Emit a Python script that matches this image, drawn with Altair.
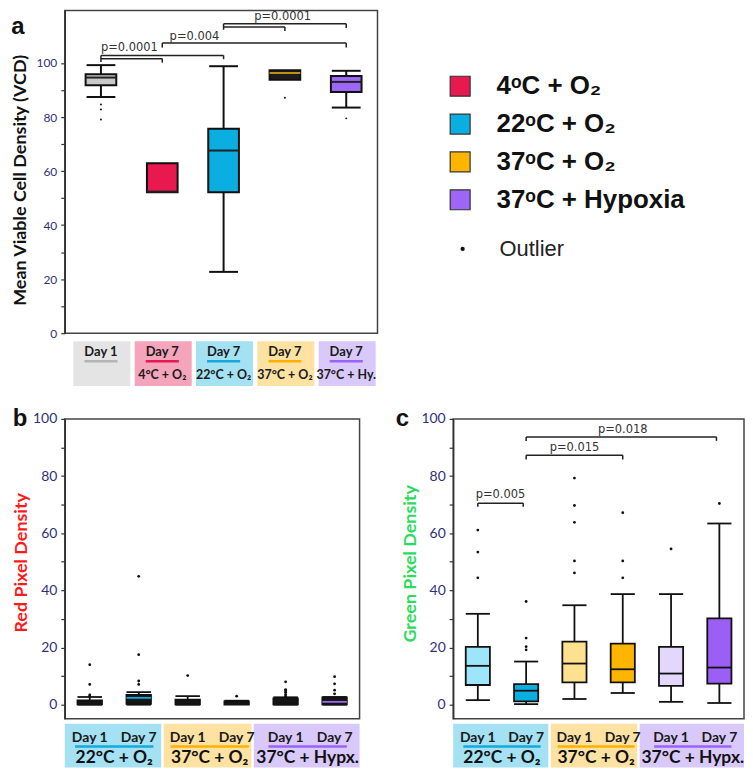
import altair as alt
import pandas as pd

# ================= DATA =================
# Panel a : mean viable cell density
a_top_labels = ["Day 1", "Day 7", "Day 7", "Day 7", "Day 7"]
a_bottom_labels = ["", "4°C + O₂", "22°C + O₂", "37°C + O₂", "37°C + Hy."]
a_low = [87.4, 52.2, 22.7, 93.8, 83.5]
a_q1 = [91.8, 52.2, 52.2, 93.8, 89.3]
a_med = [94.6, 52.4, 67.6, 96.3, 93.0]
a_q3 = [95.8, 62.9, 75.7, 97.3, 95.2]
a_high = [99.2, 62.9, 98.8, 97.3, 97.1]
a_outliers = [[79.1, 82.8, 84.6], [], [], [87.1], [79.5]]
a_pvalues = ["p=0.0001", "p=0.004", "p=0.0001"]

# Panels b / c : pixel densities
bc_days = ["Day 1", "Day 7", "Day 1", "Day 7", "Day 1", "Day 7"]
bc_conditions = ["22°C + O₂", "37°C + O₂", "37°C + Hypx."]

b_low = [0.0, 0.0, 0.0, 0.0, 0.0, 0.0]
b_q1 = [0.1, 0.3, 0.1, 0.0, 0.1, 0.1]
b_med = [0.7, 2.4, 0.8, 0.5, 0.8, 1.0]
b_q3 = [1.5, 3.4, 1.8, 1.2, 2.2, 2.6]
b_high = [2.7, 4.4, 3.0, 1.4, 2.6, 2.7]
b_outliers = [[3.0, 3.4, 7.1, 14.0], [7.1, 8.3, 17.5, 44.9], [10.2], [3.0],
              [3.0, 3.6, 4.4, 5.0, 5.3, 8.0], [3.8, 5.1, 7.3, 9.8]]

c_low = [1.6, 0.2, 2.0, 4.1, 1.0, 0.6]
c_q1 = [6.9, 1.2, 7.8, 7.8, 6.6, 7.4]
c_med = [13.6, 4.9, 14.4, 12.4, 10.9, 13.0]
c_q3 = [20.2, 7.2, 22.1, 21.4, 20.2, 30.2]
c_high = [31.8, 15.1, 34.8, 38.7, 38.7, 63.4]
c_outliers = [[44.4, 53.4, 61.1], [19.2, 20.3, 23.3, 36.1], [46.1, 50.3, 63.8, 69.7, 79.3],
              [44.4, 50.3, 67.2], [54.5], [70.4]]
c_pvalues = ["p=0.005", "p=0.015", "p=0.018"]

legend_labels = ["4ᵒC + O₂", "22ᵒC + O₂", "37ᵒC + O₂", "37ᵒC + Hypoxia"]

# ================= STYLE =================
INK = "#111111"
TICK_LABEL = "#30307a"
A_FILL = ["#c8c8c8", "#e8194f", "#0aaee0", "#1c1c1c", "#9c66f7"]
A_MED = ["#222222", "#222222", "#222222", "#c39212", "#222222"]
A_BG = ["#e4e4e4", "#f5a5bb", "#a4e1f3", "#fde2a2", "#d9c9fb"]
A_LINE = ["#b4b4b4", "#e8194f", "#15a9dc", "#ffb000", "#9b62f6"]
B_FILL = ["#151515"] * 6
B_MED = ["#151515", "#10aee0", "#151515", "#151515", "#151515", "#9c66f7"]
C_FILL = ["#9de6fa", "#0aaee0", "#fde18f", "#ffb400", "#e3d7fb", "#9c5ff5"]
C_MED = ["#111111"] * 6
BC_BG = ["#a4e1f3", "#fde2a2", "#d9c9fb"]
BC_LINE = ["#15a9dc", "#ffb000", "#9b62f6"]
LEG_COLORS = ["#e8194f", "#0aaee0", "#ffb400", "#9c66f7"]


def boxes_df(low, q1, med, q3, high, fills, meds, hb, hc):
    d = pd.DataFrame({"pos": list(range(1, len(low) + 1)), "low": low, "q1": q1,
                      "med": med, "q3": q3, "high": high, "fill": fills, "medc": meds})
    d["xl"] = d["pos"] - hb
    d["xr"] = d["pos"] + hb
    d["cl"] = d["pos"] - hc
    d["cr"] = d["pos"] + hc
    return d


def outliers_df(outs):
    rows = [(i + 1, v) for i, vs in enumerate(outs) for v in vs]
    return pd.DataFrame(rows, columns=["pos", "v"])


def bracket_df(brackets):
    segs = []
    for x1, x2, lvl, dl, dr in brackets:
        segs.append((x1, x2, lvl, lvl))
        if dl:
            segs.append((x1, x1, lvl, lvl - dl))
        if dr:
            segs.append((x2, x2, lvl, lvl - dr))
    return pd.DataFrame(segs, columns=["x", "x2", "y", "y2"])


def make_axis(title, color, title_x, title_y, label_size):
    return alt.Axis(title=title, values=list(range(0, 101, 10)),
                    labelExpr="datum.value % 20 === 0 ? datum.label : ''",
                    grid=False, domainColor="#333333", domainWidth=1.5,
                    tickColor="#333333", tickSize=4, tickWidth=1.2,
                    labelPadding=4, labelFont="Lato", labelFontSize=label_size,
                    labelColor=TICK_LABEL, labelFlush=False, labelOverlap=False,
                    titleFont="Lato", titleFontSize=18, titleFontWeight="bold",
                    titleColor=color, titleAngle=270, titleBaseline="middle",
                    titleX=title_x, titleY=title_y)


def box_layers(bdf, odf, xs, ys, yax, sw, dot):
    def X(f):
        return alt.X(f, type="quantitative", scale=xs, axis=None)

    def Y(f):
        return alt.Y(f, type="quantitative", scale=ys, axis=yax)

    base = alt.Chart(bdf)
    rule = dict(color=INK, strokeWidth=sw)
    wl = base.transform_filter("datum.low < datum.q1").mark_rule(**rule).encode(
        x=X("pos"), y=Y("low"), y2="q1")
    wh = base.transform_filter("datum.high > datum.q3").mark_rule(**rule).encode(
        x=X("pos"), y=Y("q3"), y2="high")
    cl = base.transform_filter("datum.low < datum.q1").mark_rule(**rule).encode(
        x=X("cl"), x2="cr", y=Y("low"))
    ch = base.transform_filter("datum.high > datum.q3").mark_rule(**rule).encode(
        x=X("cl"), x2="cr", y=Y("high"))
    box = base.mark_rect(stroke=INK, strokeWidth=sw).encode(
        x=X("xl"), x2="xr", y=Y("q1"), y2="q3", fill=alt.Fill("fill:N", scale=None))
    med = base.mark_rule(strokeWidth=sw).encode(
        x=X("xl"), x2="xr", y=Y("med"), color=alt.Color("medc:N", scale=None))
    out = alt.Chart(odf).mark_circle(size=dot, color=INK, opacity=1).encode(
        x=X("pos"), y=Y("v"))
    return [wl, wh, cl, ch, box, med, out], X, Y


def letter(txt, xv, yv):
    return alt.Chart(pd.DataFrame({"t": [txt]})).mark_text(
        font="Liberation Sans", fontSize=24, fontWeight="bold", color=INK,
        align="center", baseline="alphabetic").encode(
        x=alt.value(xv), y=alt.value(yv), text="t:N")


# ================= PANEL A =================
xs_a = alt.Scale(domain=[0.41, 5.51], nice=False, zero=False)
ys_a = alt.Scale(domain=[0, 119.4], nice=False, zero=False)
ax_a = make_axis("Mean Viable Cell Density (VCD)", INK, -44.5, 170, 12)

a_box = boxes_df(a_low, a_q1, a_med, a_q3, a_high, A_FILL, A_MED, 0.25, 0.235)
a_layers, XA, YA = box_layers(a_box, outliers_df(a_outliers), xs_a, ys_a, ax_a, 2, 4)

a_lab = pd.DataFrame({"pos": list(range(1, 6)), "top": a_top_labels,
                      "bottom": a_bottom_labels, "bg": A_BG, "line": A_LINE})
a_lab["x1"] = a_lab["pos"] - 0.45
a_lab["x2"] = a_lab["pos"] + 0.48
a_lab["u1"] = a_lab["pos"] - 0.27
a_lab["u2"] = a_lab["pos"] + 0.27
a_lab["y1"] = -2.95
a_lab["y2"] = -19.53
a_lab["ty"] = -6.9
a_lab["uy"] = -10.4
a_lab["by"] = -15.6
la = alt.Chart(a_lab)
a_bg = la.mark_rect().encode(x=XA("x1"), x2="x2", y=YA("y1"), y2="y2",
                             fill=alt.Fill("bg:N", scale=None))
a_t1 = la.mark_text(font="Lato", fontSize=13, fontWeight="bold", color="#1a1a1a",
                    baseline="middle").encode(x=XA("pos"), y=YA("ty"), text="top:N")
a_ul = la.mark_rule(strokeWidth=2.5).encode(x=XA("u1"), x2="u2", y=YA("uy"),
                                            color=alt.Color("line:N", scale=None))
a_t2 = la.mark_text(font="Lato", fontSize=12.5, fontWeight="bold", color="#1a1a1a",
                    baseline="middle").encode(x=XA("pos"), y=YA("by"), text="bottom:N")

a_br = bracket_df([(1, 3, 102.8, 2.4, 1.4), (1, 2, 101.6, 0, 1.5),
                   (2, 5, 107.4, 1.7, 1.7),
                   (3, 5, 114.5, 2.2, 1.6), (3, 4, 113.3, 0, 1.5)])
a_brl = alt.Chart(a_br).mark_rule(color="#222222", strokeWidth=1.5).encode(
    x=XA("x"), x2="x2", y=YA("y"), y2="y2")
a_pt = pd.DataFrame({"t": a_pvalues, "x": [1.0, 2.12, 3.5], "y": [105.5, 109.7, 117.1]})
a_ptl = alt.Chart(a_pt).mark_text(font="DejaVu Sans", fontSize=11.5, color="#333333",
                                  align="left", baseline="middle").encode(
    x=XA("x"), y=YA("y"), text="t:N")

panel_a = alt.layer(a_bg, a_t1, a_ul, a_t2, *a_layers, a_brl, a_ptl,
                    letter("a", -47, 24)).properties(width=314, height=324)

# ================= LEGEND =================
ly = alt.Scale(domain=[-2, 5.895], nice=False, zero=False, reverse=True)
leg = pd.DataFrame({"label": legend_labels, "color": LEG_COLORS, "row": [0, 1, 2, 3]})
lg_sq = alt.Chart(leg).mark_square(size=400, stroke="#333333", strokeWidth=1.2,
                                   opacity=1).encode(
    x=alt.value(61), y=alt.Y("row:Q", scale=ly, axis=None),
    fill=alt.Fill("color:N", scale=None))
lg_tx = alt.Chart(leg).mark_text(font="Liberation Sans", fontSize=26, fontWeight="bold",
                                 color=INK, align="left", baseline="middle").encode(
    x=alt.value(97.5), y=alt.Y("row:Q", scale=ly, axis=None), text="label:N")
outl = pd.DataFrame({"label": ["Outlier"], "row": [4.3]})
lg_od = alt.Chart(outl).mark_circle(size=18, color=INK, opacity=1).encode(
    x=alt.value(63.5), y=alt.Y("row:Q", scale=ly, axis=None))
lg_ot = alt.Chart(outl).mark_text(font="Liberation Sans", fontSize=22, color="#222222",
                                  align="left", baseline="middle").encode(
    x=alt.value(100.5), y=alt.Y("row:Q", scale=ly, axis=None), text="label:N")
legend = alt.layer(lg_sq, lg_tx, lg_od, lg_ot).properties(
    width=330, height=300, view=alt.ViewBackground(stroke="transparent"))

# ================= PANELS B / C =================
ys_bc = alt.Scale(domain=[-4.88, 100], nice=False, zero=False)
xs_bc = alt.Scale(domain=[0.49, 6.51], nice=False, zero=False)


def bc_panel(low, q1, med, q3, high, fills, meds, outs, title, tcolor, title_x,
             title_y, width, let, let_x, brackets=None, ptexts=None):
    ax = make_axis(title, tcolor, title_x, title_y, 14)
    bdf = boxes_df(low, q1, med, q3, high, fills, meds, 0.25, 0.25)
    layers, X, Y = box_layers(bdf, outliers_df(outs), xs_bc, ys_bc, ax, 1.8, 8)
    grp = pd.DataFrame({"x1": [0.49, 2.51, 4.35], "x2": [2.46, 4.3, 6.51],
                        "mid": [1.5, 3.45, 5.45], "cond": bc_conditions,
                        "bg": BC_BG, "line": BC_LINE})
    grp["u1"] = grp["mid"] - 0.8
    grp["u2"] = grp["mid"] + 0.8
    grp["y1"] = -6.62
    grp["y2"] = -21.95
    grp["uy"] = -14.6
    grp["cy"] = -18.8
    days = pd.DataFrame({"pos": list(range(1, 7)), "day": bc_days})
    days["ty"] = -11.5
    g = alt.Chart(grp)
    bg = g.mark_rect().encode(x=X("x1"), x2="x2", y=Y("y1"), y2="y2",
                              fill=alt.Fill("bg:N", scale=None))
    ul = g.mark_rule(strokeWidth=2.5).encode(x=X("u1"), x2="u2", y=Y("uy"),
                                             color=alt.Color("line:N", scale=None))
    ct = g.mark_text(font="Lato", fontSize=17.5, fontWeight="bold", color="#111111",
                     baseline="middle").encode(x=X("mid"), y=Y("cy"), text="cond:N")
    dt = alt.Chart(days).mark_text(font="Lato", fontSize=14, fontWeight="bold",
                                   color="#1a1a1a", baseline="middle").encode(
        x=X("pos"), y=Y("ty"), text="day:N")
    extra = []
    if brackets is not None:
        extra.append(alt.Chart(bracket_df(brackets)).mark_rule(
            color="#222222", strokeWidth=1.5).encode(x=X("x"), x2="x2", y=Y("y"), y2="y2"))
        extra.append(alt.Chart(ptexts).mark_text(
            font="DejaVu Sans", fontSize=11.5, color="#333333", baseline="middle").encode(
            x=X("x"), y=Y("y"), text="t:N"))
    return alt.layer(bg, ul, ct, dt, *layers, *extra, letter(let, let_x, 6.7)).properties(
        width=width, height=301)


panel_b = bc_panel(b_low, b_q1, b_med, b_q3, b_high, B_FILL, B_MED, b_outliers,
                   "Red Pixel Density", "#ff1a1a", -43, 144, 296, "b", -45)

c_pt = pd.DataFrame({"t": c_pvalues, "x": [1.47, 3.0, 4.0], "y": [73.5, 89.9, 96.2]})
panel_c = bc_panel(c_low, c_q1, c_med, c_q3, c_high, C_FILL, C_MED, c_outliers,
                   "Green Pixel Density", "#2bdc5c", -43, 145, 292, "c", -51,
                   brackets=[(1, 1.94, 70.5, 1.2, 1.2), (2, 4, 87.3, 1.5, 1.5),
                             (2, 5.94, 93.7, 1.4, 1.4)],
                   ptexts=c_pt)

top = alt.hconcat(panel_a, legend, spacing=20)
bottom = alt.hconcat(panel_b, panel_c, spacing=34)
chart = alt.vconcat(top, bottom, spacing=18).properties(
    padding={"left": 2, "top": 0, "right": 0, "bottom": 0}).configure_view(
    stroke="#444444", strokeWidth=1.5)

chart.save("out.html", embed_options={"renderer": "svg", "actions": False})
